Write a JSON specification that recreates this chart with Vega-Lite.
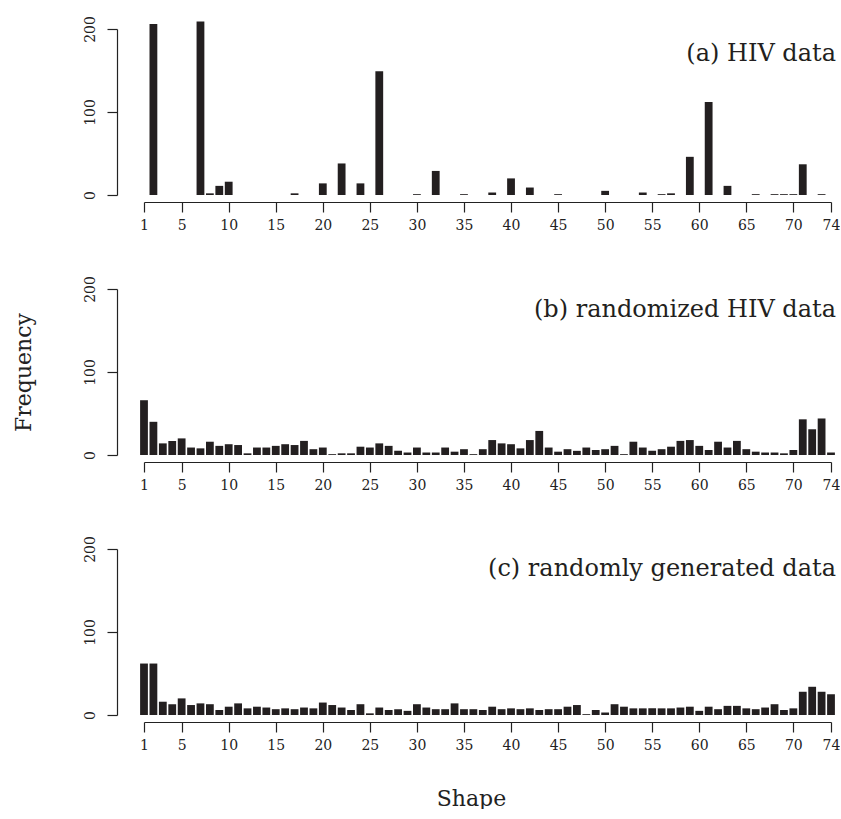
{
  "$schema": "https://vega.github.io/schema/vega-lite/v6.json",
  "padding": {"left": 12, "top": 15, "right": 0, "bottom": 0},
  "background": "white",
  "datasets": {
    "a": [
      {"shape": 2, "freq": 206}, {"shape": 7, "freq": 209}, {"shape": 8, "freq": 2}, {"shape": 9, "freq": 11}, {"shape": 10, "freq": 16},
      {"shape": 17, "freq": 2}, {"shape": 20, "freq": 14}, {"shape": 22, "freq": 38}, {"shape": 24, "freq": 14}, {"shape": 26, "freq": 149},
      {"shape": 30, "freq": 1}, {"shape": 32, "freq": 29}, {"shape": 35, "freq": 1}, {"shape": 38, "freq": 3}, {"shape": 40, "freq": 20},
      {"shape": 42, "freq": 9}, {"shape": 45, "freq": 1}, {"shape": 50, "freq": 5}, {"shape": 54, "freq": 3}, {"shape": 56, "freq": 1},
      {"shape": 57, "freq": 2}, {"shape": 59, "freq": 46}, {"shape": 61, "freq": 112}, {"shape": 63, "freq": 11}, {"shape": 66, "freq": 1},
      {"shape": 68, "freq": 1}, {"shape": 69, "freq": 1}, {"shape": 70, "freq": 1}, {"shape": 71, "freq": 37}, {"shape": 73, "freq": 1}
    ],
    "b": [
      {"shape": 1, "freq": 66}, {"shape": 2, "freq": 40}, {"shape": 3, "freq": 14}, {"shape": 4, "freq": 17}, {"shape": 5, "freq": 20},
      {"shape": 6, "freq": 9}, {"shape": 7, "freq": 8}, {"shape": 8, "freq": 16}, {"shape": 9, "freq": 11}, {"shape": 10, "freq": 13},
      {"shape": 11, "freq": 12}, {"shape": 12, "freq": 2}, {"shape": 13, "freq": 9}, {"shape": 14, "freq": 9}, {"shape": 15, "freq": 11},
      {"shape": 16, "freq": 13}, {"shape": 17, "freq": 12}, {"shape": 18, "freq": 17}, {"shape": 19, "freq": 7}, {"shape": 20, "freq": 9},
      {"shape": 21, "freq": 1}, {"shape": 22, "freq": 2}, {"shape": 23, "freq": 2}, {"shape": 24, "freq": 10}, {"shape": 25, "freq": 9},
      {"shape": 26, "freq": 14}, {"shape": 27, "freq": 11}, {"shape": 28, "freq": 5}, {"shape": 29, "freq": 3}, {"shape": 30, "freq": 9},
      {"shape": 31, "freq": 3}, {"shape": 32, "freq": 3}, {"shape": 33, "freq": 9}, {"shape": 34, "freq": 4}, {"shape": 35, "freq": 7},
      {"shape": 36, "freq": 1}, {"shape": 37, "freq": 7}, {"shape": 38, "freq": 18}, {"shape": 39, "freq": 14}, {"shape": 40, "freq": 13},
      {"shape": 41, "freq": 8}, {"shape": 42, "freq": 18}, {"shape": 43, "freq": 29}, {"shape": 44, "freq": 9}, {"shape": 45, "freq": 4},
      {"shape": 46, "freq": 7}, {"shape": 47, "freq": 5}, {"shape": 48, "freq": 9}, {"shape": 49, "freq": 6}, {"shape": 50, "freq": 7},
      {"shape": 51, "freq": 11}, {"shape": 52, "freq": 1}, {"shape": 53, "freq": 16}, {"shape": 54, "freq": 9}, {"shape": 55, "freq": 5},
      {"shape": 56, "freq": 7}, {"shape": 57, "freq": 10}, {"shape": 58, "freq": 17}, {"shape": 59, "freq": 18}, {"shape": 60, "freq": 11},
      {"shape": 61, "freq": 6}, {"shape": 62, "freq": 16}, {"shape": 63, "freq": 9}, {"shape": 64, "freq": 17}, {"shape": 65, "freq": 7},
      {"shape": 66, "freq": 4}, {"shape": 67, "freq": 3}, {"shape": 68, "freq": 3}, {"shape": 69, "freq": 2}, {"shape": 70, "freq": 6},
      {"shape": 71, "freq": 43}, {"shape": 72, "freq": 31}, {"shape": 73, "freq": 44}, {"shape": 74, "freq": 3}
    ],
    "c": [
      {"shape": 1, "freq": 62}, {"shape": 2, "freq": 62}, {"shape": 3, "freq": 16}, {"shape": 4, "freq": 13}, {"shape": 5, "freq": 20},
      {"shape": 6, "freq": 12}, {"shape": 7, "freq": 14}, {"shape": 8, "freq": 13}, {"shape": 9, "freq": 6}, {"shape": 10, "freq": 10},
      {"shape": 11, "freq": 14}, {"shape": 12, "freq": 8}, {"shape": 13, "freq": 10}, {"shape": 14, "freq": 9}, {"shape": 15, "freq": 7},
      {"shape": 16, "freq": 8}, {"shape": 17, "freq": 7}, {"shape": 18, "freq": 9}, {"shape": 19, "freq": 8}, {"shape": 20, "freq": 15},
      {"shape": 21, "freq": 12}, {"shape": 22, "freq": 9}, {"shape": 23, "freq": 6}, {"shape": 24, "freq": 13}, {"shape": 25, "freq": 2},
      {"shape": 26, "freq": 9}, {"shape": 27, "freq": 6}, {"shape": 28, "freq": 7}, {"shape": 29, "freq": 5}, {"shape": 30, "freq": 13},
      {"shape": 31, "freq": 9}, {"shape": 32, "freq": 7}, {"shape": 33, "freq": 7}, {"shape": 34, "freq": 14}, {"shape": 35, "freq": 7},
      {"shape": 36, "freq": 7}, {"shape": 37, "freq": 6}, {"shape": 38, "freq": 10}, {"shape": 39, "freq": 7}, {"shape": 40, "freq": 8},
      {"shape": 41, "freq": 7}, {"shape": 42, "freq": 8}, {"shape": 43, "freq": 6}, {"shape": 44, "freq": 7}, {"shape": 45, "freq": 7},
      {"shape": 46, "freq": 10}, {"shape": 47, "freq": 12}, {"shape": 48, "freq": 1}, {"shape": 49, "freq": 6}, {"shape": 50, "freq": 3},
      {"shape": 51, "freq": 13}, {"shape": 52, "freq": 10}, {"shape": 53, "freq": 8}, {"shape": 54, "freq": 8}, {"shape": 55, "freq": 8},
      {"shape": 56, "freq": 8}, {"shape": 57, "freq": 8}, {"shape": 58, "freq": 9}, {"shape": 59, "freq": 10}, {"shape": 60, "freq": 5},
      {"shape": 61, "freq": 10}, {"shape": 62, "freq": 7}, {"shape": 63, "freq": 11}, {"shape": 64, "freq": 11}, {"shape": 65, "freq": 8},
      {"shape": 66, "freq": 7}, {"shape": 67, "freq": 9}, {"shape": 68, "freq": 13}, {"shape": 69, "freq": 6}, {"shape": 70, "freq": 8},
      {"shape": 71, "freq": 28}, {"shape": 72, "freq": 34}, {"shape": 73, "freq": 28}, {"shape": 74, "freq": 25}
    ]
  },
  "vconcat": [
    {
      "width": 687, "height": 166,
      "layer": [
        {
          "data": {"name": "a"},
          "mark": {"type": "bar", "size": 7.8, "color": "#231f20"},
          "encoding": {
            "x": {"field": "shape", "type": "quantitative", "title": null, "scale": {"domain": [1, 74], "nice": false, "zero": false, "padding": 0},
                  "axis": {"offset": 7, "values": [1, 5, 10, 15, 20, 25, 30, 35, 40, 45, 50, 55, 60, 65, 70, 74], "labelPadding": 6}},
            "y": {"field": "freq", "type": "quantitative", "title": null, "scale": {"domain": [0, 200], "nice": false},
                  "axis": {"offset": 27, "values": [0, 100, 200], "labelAngle": -90, "labelAlign": "center", "labelBaseline": "alphabetic", "labelPadding": 13}}
          }
        },
        {
          "data": {"values": [{"label": "(a) HIV data"}]},
          "mark": {"type": "text", "align": "right", "baseline": "alphabetic", "dx": 5, "font": "DejaVu Serif", "fontSize": 24, "color": "#231f20"},
          "encoding": {
            "x": {"datum": 74, "type": "quantitative", "title": null},
            "y": {"datum": 162, "type": "quantitative", "title": null},
            "text": {"field": "label"}
          }
        }
      ]
    },
    {
      "width": 687, "height": 166,
      "layer": [
        {
          "data": {"name": "b"},
          "mark": {"type": "bar", "size": 7.8, "color": "#231f20"},
          "encoding": {
            "x": {"field": "shape", "type": "quantitative", "title": null, "scale": {"domain": [1, 74], "nice": false, "zero": false, "padding": 0},
                  "axis": {"offset": 7, "values": [1, 5, 10, 15, 20, 25, 30, 35, 40, 45, 50, 55, 60, 65, 70, 74], "labelPadding": 6}},
            "y": {"field": "freq", "type": "quantitative", "title": "Frequency", "scale": {"domain": [0, 200], "nice": false},
                  "axis": {"offset": 27, "values": [0, 100, 200], "labelAngle": -90, "labelAlign": "center", "labelBaseline": "alphabetic", "labelPadding": 13, "titlePadding": 48}}
          }
        },
        {
          "data": {"values": [{"label": "(b) randomized HIV data"}]},
          "mark": {"type": "text", "align": "right", "baseline": "alphabetic", "dx": 5, "font": "DejaVu Serif", "fontSize": 24, "color": "#231f20"},
          "encoding": {
            "x": {"datum": 74, "type": "quantitative", "title": null},
            "y": {"datum": 166, "type": "quantitative", "title": "Frequency"},
            "text": {"field": "label"}
          }
        }
      ]
    },
    {
      "width": 687, "height": 166,
      "layer": [
        {
          "data": {"name": "c"},
          "mark": {"type": "bar", "size": 7.8, "color": "#231f20"},
          "encoding": {
            "x": {"field": "shape", "type": "quantitative", "title": "Shape", "scale": {"domain": [1, 74], "nice": false, "zero": false, "padding": 0},
                  "axis": {"offset": 7, "values": [1, 5, 10, 15, 20, 25, 30, 35, 40, 45, 50, 55, 60, 65, 70, 74], "labelPadding": 6, "titlePadding": 36, "titleX": 327}},
            "y": {"field": "freq", "type": "quantitative", "title": null, "scale": {"domain": [0, 200], "nice": false},
                  "axis": {"offset": 27, "values": [0, 100, 200], "labelAngle": -90, "labelAlign": "center", "labelBaseline": "alphabetic", "labelPadding": 13}}
          }
        },
        {
          "data": {"values": [{"label": "(c) randomly generated data"}]},
          "mark": {"type": "text", "align": "right", "baseline": "alphabetic", "dx": 5, "font": "DejaVu Serif", "fontSize": 24, "color": "#231f20"},
          "encoding": {
            "x": {"datum": 74, "type": "quantitative", "title": "Shape"},
            "y": {"datum": 168, "type": "quantitative", "title": null},
            "text": {"field": "label"}
          }
        }
      ]
    }
  ],
  "spacing": 94,
  "bounds": "flush",
  "config": {
    "view": {"stroke": null},
    "axis": {
      "grid": false,
      "domainColor": "#222222", "tickColor": "#222222", "labelColor": "#222222", "titleColor": "#222222",
      "domainWidth": 1.2, "tickWidth": 1.2, "tickSize": 10,
      "labelFont": "DejaVu Serif", "labelFontSize": 14, "labelFlush": false, "labelOverlap": false,
      "titleFont": "DejaVu Serif", "titleFontSize": 22, "titleFontWeight": "normal"
    }
  }
}
